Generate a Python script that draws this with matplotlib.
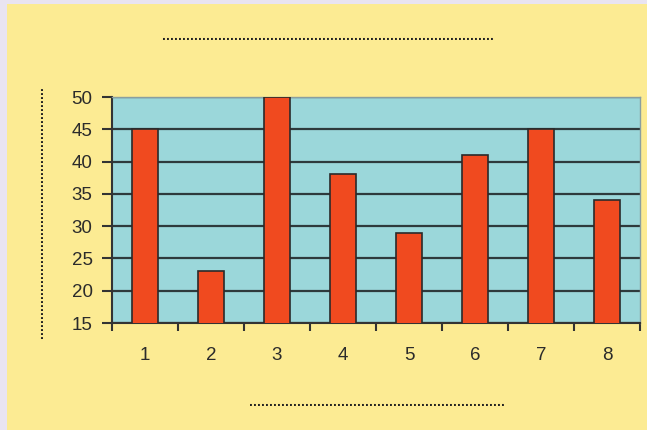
import matplotlib.pyplot as plt
from matplotlib.patches import Rectangle

categories = [1, 2, 3, 4, 5, 6, 7, 8]
values = [45, 23, 50, 38, 29, 41, 45, 34]
y_ticks = [15, 20, 25, 30, 35, 40, 45, 50]

fig = plt.figure(figsize=(6.47, 4.3), dpi=100)
fig.patch.set_facecolor('#E9E4F1')
# yellow panel behind the chart
fig.add_artist(Rectangle((7 / 647, 0), 1, 1 - 4 / 430, transform=fig.transFigure,
                         facecolor='#FCEB93', edgecolor='none', zorder=-5))

ax = fig.add_axes([112 / 647, 1 - 323 / 430, 528 / 647, 226 / 430])
ax.set_facecolor('#9BD7DA')

ax.bar(categories, values, width=0.4, color='#F04A1F', edgecolor='#2a2a2a',
       linewidth=1.2, zorder=3)

ax.set_xlim(0.5, 8.5)
ax.set_ylim(15, 50)
ax.set_yticks(y_ticks)
ax.set_xticks(categories)
ax.set_xticks([c + 0.5 for c in [0] + categories], minor=True)
ax.grid(axis='y', color='#2e3a3c', linewidth=1.6, zorder=1)

ax.tick_params(axis='x', which='major', length=0, pad=17, labelsize=13.5)
ax.tick_params(axis='x', which='minor', length=6, width=1.5, color='#333333', direction='out')
ax.tick_params(axis='y', length=7, width=1.5, color='#333333', labelsize=13.5, pad=7)
for lab in ax.get_xticklabels() + ax.get_yticklabels():
    lab.set_fontfamily('Liberation Sans')
    lab.set_color('#2b2b2b')

for s in ['left', 'bottom']:
    ax.spines[s].set_color('#333333')
    ax.spines[s].set_linewidth(1.5)
for s in ['top', 'right']:
    ax.spines[s].set_color('#8a9fa0')
    ax.spines[s].set_linewidth(1.0)

# placeholder texts drawn as rows of dots
fig.text(328 / 647, 1 - 37 / 430, '.' * 83, ha='center', va='center', fontsize=7.5,
         fontweight='bold', color='#222222')
fig.text(40 / 647, 1 - 212 / 430, '.' * 63, ha='center', va='center', rotation=90,
         fontsize=7.5, fontweight='bold', color='#222222')
fig.text(377 / 647, 1 - 403 / 430, '.' * 64, ha='center', va='center', fontsize=7.5,
         fontweight='bold', color='#222222')

fig.savefig('out.png', dpi=100, facecolor=fig.get_facecolor())
